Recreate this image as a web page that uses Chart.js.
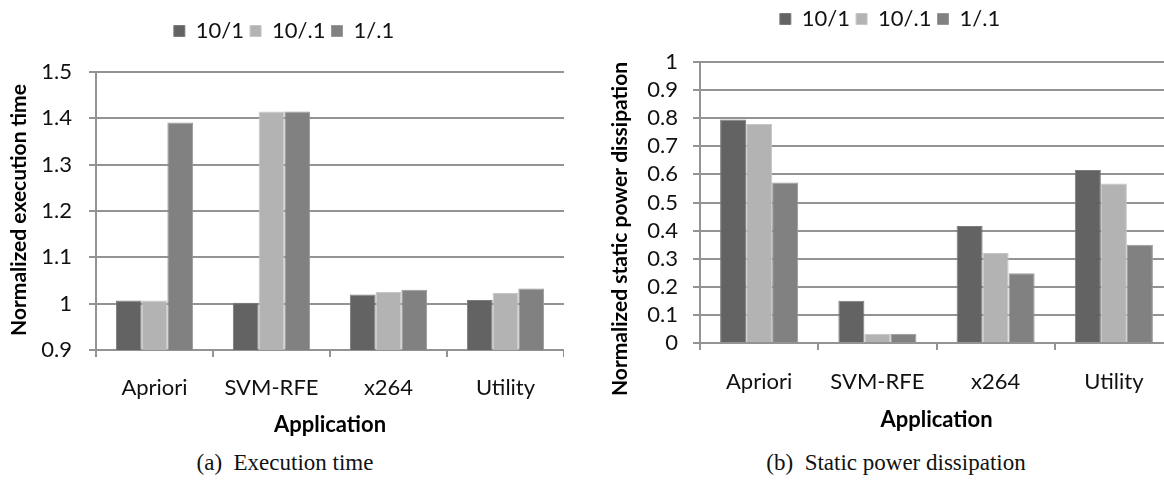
<!DOCTYPE html>
<html>
<head>
<meta charset="utf-8">
<script src="https://cdn.jsdelivr.net/npm/chart.js@4.4.1/dist/chart.umd.min.js"></script>
<style>
  html, body { margin: 0; padding: 0; background: #ffffff; }
  body { width: 1164px; height: 483px; overflow: hidden; position: relative; }
  canvas { position: absolute; top: 0; }
  .caption {
    position: absolute;
    top: 450px;
    font-family: "Liberation Serif", "Times New Roman", serif;
    font-size: 23px;
    color: #111111;
    white-space: nowrap;
    transform: translateX(-50%);
  }
</style>
</head>
<body>
<canvas id="execChart" width="564" height="445" style="left:0px"></canvas>
<canvas id="powerChart" width="593" height="445" style="left:580px"></canvas>
<div class="caption" style="left:285px">(a)&nbsp; Execution time</div>
<div class="caption" style="left:896px">(b)&nbsp; Static power dissipation</div>

<script>
// Applications and configurations
const applications = ['Apriori', 'SVM-RFE', 'x264', 'Utility'];
const seriesNames = ['10/1', '10/.1', '1/.1'];
const seriesColors = ['#636363', '#b3b3b3', '#818181'];
const seriesEdges = ['#7c7c7c', '#c6c6c6', '#999999'];

// Normalized execution time
const execTime_10_1  = [1.007, 1.002, 1.020, 1.008];
const execTime_10_01 = [1.007, 1.415, 1.025, 1.023];
const execTime_1_01  = [1.391, 1.415, 1.030, 1.033];
const execTickLabels = ['0.9', '1', '1.1', '1.2', '1.3', '1.4', '1.5'];

// Normalized static power dissipation
const power_10_1  = [0.795, 0.150, 0.416, 0.616];
const power_10_01 = [0.779, 0.033, 0.320, 0.568];
const power_1_01  = [0.571, 0.033, 0.248, 0.350];
const powerTickLabels = ['0', '0.1', '0.2', '0.3', '0.4', '0.5', '0.6', '0.7', '0.8', '0.9', '1'];

const FONT = 'Lato, "Open Sans", sans-serif';
const GRID = '#939393';

function makeDatasets(a, b, c) {
  return [a, b, c].map((values, i) => ({
    label: seriesNames[i],
    data: values,
    backgroundColor: seriesColors[i],
    borderColor: seriesEdges[i],
    borderWidth: 1,
    categoryPercentage: 0.66,
    barPercentage: 1.0
  }));
}

// Keeps the legend band a fixed height so the plot starts at a set offset.
function legendBand(topOfPlot) {
  return {
    id: 'legendBand',
    beforeInit(chart) {
      const origFit = chart.legend.fit;
      chart.legend.fit = function () {
        origFit.call(this);
        this.height = topOfPlot - chart.options.layout.padding.top;
      };
    }
  };
}

// Vertical axis title, written upward and centred on (x, y) in canvas space.
function sideTitle(text, x, y) {
  return {
    id: 'sideTitle',
    afterDraw(chart) {
      const ctx = chart.ctx;
      ctx.save();
      ctx.translate(x, y);
      ctx.rotate(-Math.PI / 2);
      ctx.font = 'bold 21px ' + FONT;
      ctx.fillStyle = '#000000';
      ctx.textAlign = 'center';
      ctx.textBaseline = 'middle';
      ctx.fillText(text, 0, 0);
      ctx.restore();
    }
  };
}

function buildChart(canvasId, cfg) {
  const tickLabels = cfg.tickLabels;
  return new Chart(document.getElementById(canvasId), {
    type: 'bar',
    data: { labels: applications, datasets: cfg.datasets },
    plugins: [legendBand(cfg.plotTop), sideTitle(cfg.yTitle, cfg.yTitleX, cfg.yTitleY)],
    options: {
      responsive: false,
      animation: false,
      events: [],
      layout: { padding: { left: cfg.padLeft, right: 0, top: cfg.padTop, bottom: 0 } },
      plugins: {
        tooltip: { enabled: false },
        legend: {
          position: 'top',
          align: 'center',
          labels: {
            boxWidth: 11,
            boxHeight: 11,
            padding: 6,
            color: '#111111',
            font: { family: FONT, size: 22 }
          }
        }
      },
      scales: {
        x: {
          afterFit(scale) { scale.height = cfg.xHeight; },
          grid: {
            offset: true,
            drawOnChartArea: false,
            drawTicks: true,
            tickLength: 7,
            color: GRID,
            lineWidth: 2
          },
          border: { display: true, color: GRID, width: 2 },
          ticks: {
            color: '#111111',
            padding: cfg.xTickPad,
            maxRotation: 0,
            autoSkip: false,
            font: { family: FONT, size: 22 }
          },
          title: {
            display: true,
            text: 'Application',
            color: '#000000',
            padding: { top: 0, bottom: cfg.xTitlePad },
            font: { family: FONT, size: 22, weight: 'bold' }
          }
        },
        y: {
          min: cfg.min,
          max: cfg.max,
          afterFit(scale) { scale.width = cfg.yWidth; },
          afterBuildTicks(scale) {
            scale.ticks = tickLabels.map(t => ({ value: parseFloat(t) }));
          },
          grid: {
            drawTicks: true,
            tickLength: 7,
            color: GRID,
            lineWidth: 2
          },
          border: { display: true, color: GRID, width: 2 },
          ticks: {
            color: '#111111',
            padding: cfg.yTickPad,
            autoSkip: false,
            font: { family: FONT, size: 22 },
            callback(value, index) { return tickLabels[index]; }
          },
          title: { display: false }
        }
      }
    }
  });
}

function draw() {
  buildChart('execChart', {
    datasets: makeDatasets(execTime_10_1, execTime_10_01, execTime_1_01),
    tickLabels: execTickLabels,
    min: 0.9, max: 1.5,
    yTitle: 'Normalized execution time',
    yTitleX: 19, yTitleY: 210,
    padLeft: 4, padTop: 14, plotTop: 72,
    yWidth: 92, xHeight: 95,
    yTickPad: 17, xTickPad: 18, xTitlePad: 7
  });
  buildChart('powerChart', {
    datasets: makeDatasets(power_10_1, power_10_01, power_1_01),
    tickLabels: powerTickLabels,
    min: 0, max: 1,
    yTitle: 'Normalized static power dissipation',
    yTitleX: 40, yTitleY: 229,
    padLeft: 27, padTop: 2, plotTop: 62,
    yWidth: 93, xHeight: 102,
    yTickPad: 15, xTickPad: 19, xTitlePad: 12
  });
}

if (document.fonts && document.fonts.load) {
  Promise.all([
    document.fonts.load('22px Lato'),
    document.fonts.load('bold 22px Lato')
  ]).then(draw, draw);
} else {
  draw();
}
</script>
</body>
</html>
